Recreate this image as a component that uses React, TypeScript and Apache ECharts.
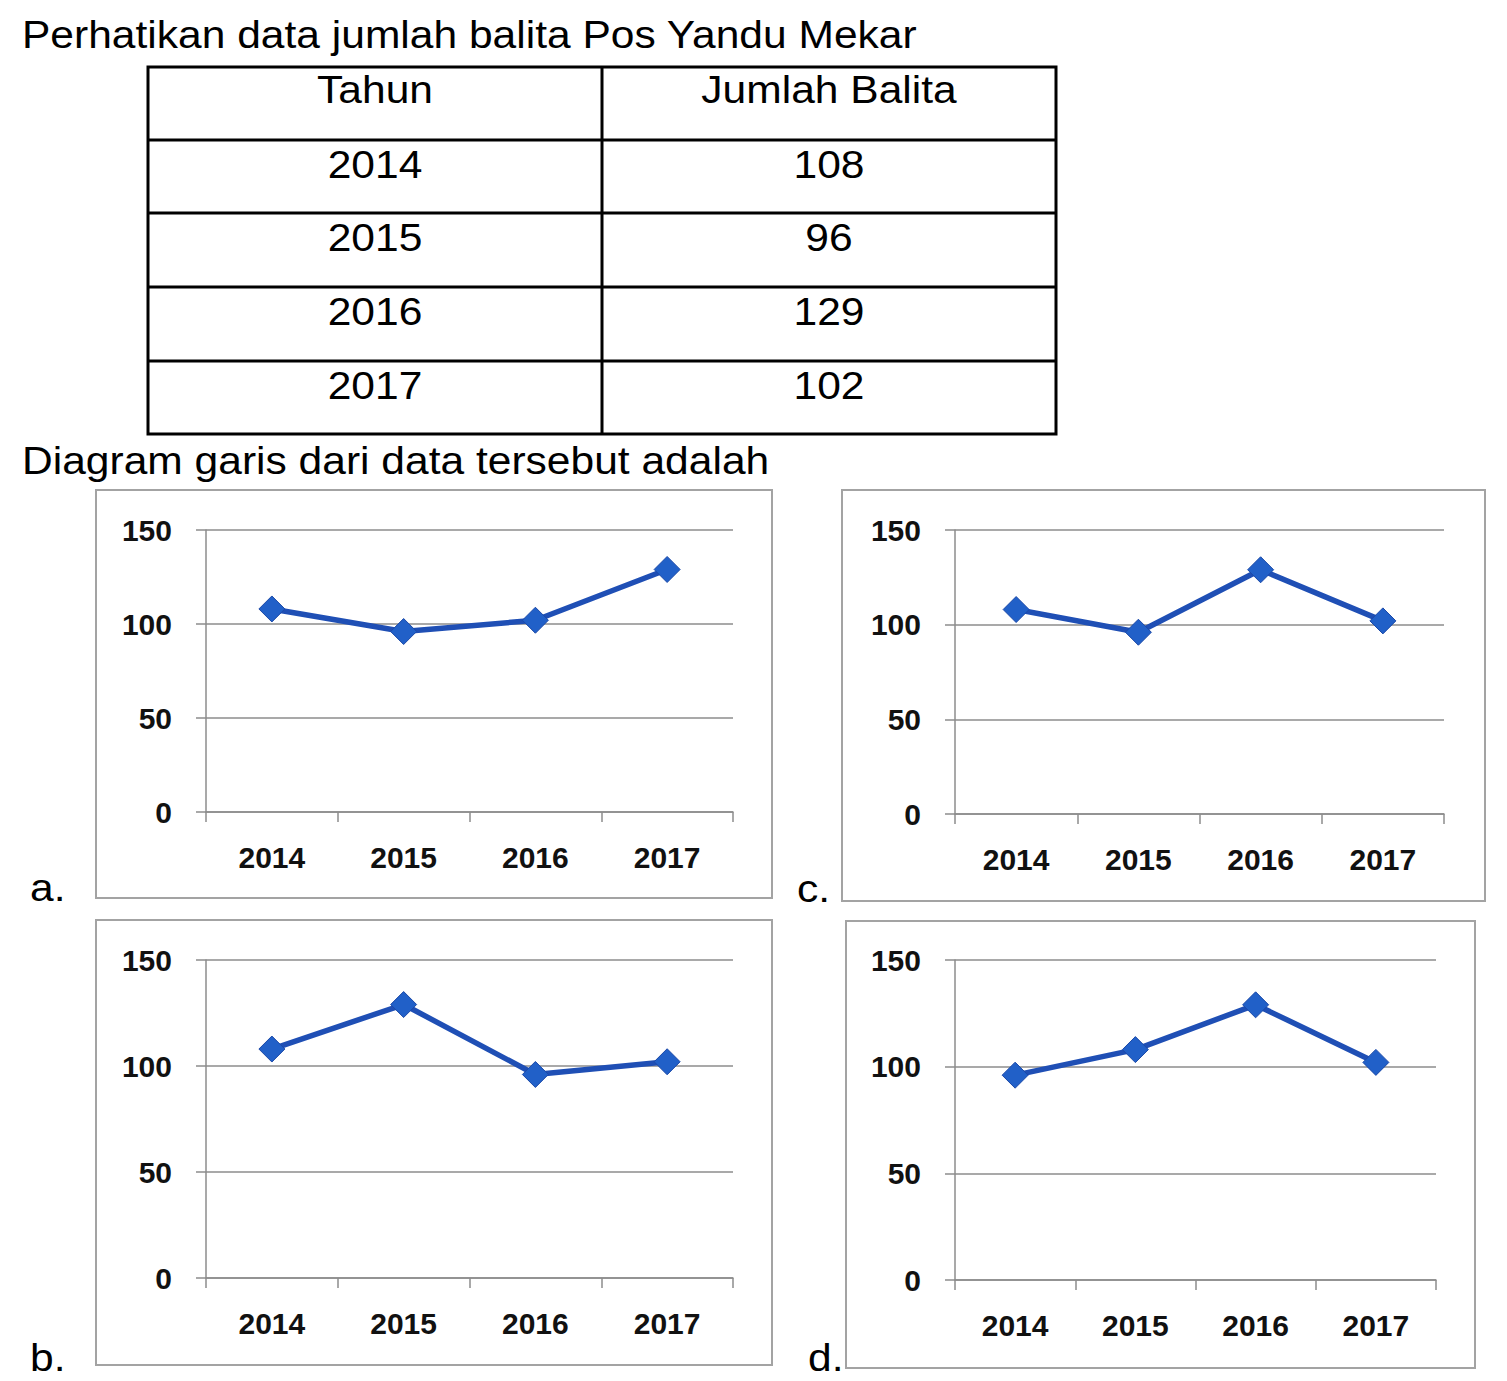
import React, { useEffect, useRef } from 'react';
import * as echarts from 'echarts';

const W = 1507;
const H = 1381;
const FONT = '"Liberation Sans", Arial, sans-serif';

// ---- texts ----
const TITLE = 'Perhatikan data jumlah balita Pos Yandu Mekar';
const SUBTITLE = 'Diagram garis dari data tersebut adalah';
const TABLE_HEADERS = ['Tahun', 'Jumlah Balita'];
const TABLE_YEARS = ['2014', '2015', '2016', '2017'];
const TABLE_COUNTS = [108, 96, 129, 102];

// ---- chart data ----
const CATEGORIES = ['2014', '2015', '2016', '2017'];
const SERIES_A = [108, 96, 102, 129];
const SERIES_B = [108, 129, 96, 102];
const SERIES_C = [108, 96, 129, 102];
const SERIES_D = [96, 108, 129, 102];
const Y_MIN = 0;
const Y_MAX = 150;
const Y_STEP = 50;

// ---- layout ----
const PANELS = [
  { letter: 'a.', data: SERIES_A, grid: { left: 206, top: 530, width: 527, height: 282 }, frame: [96, 490, 676, 408], letterPos: [30, 888] },
  { letter: 'c.', data: SERIES_C, grid: { left: 955, top: 530, width: 489, height: 284 }, frame: [842, 490, 643, 411], letterPos: [797, 889] },
  { letter: 'b.', data: SERIES_B, grid: { left: 206, top: 960, width: 527, height: 318 }, frame: [96, 920, 676, 445], letterPos: [30, 1358] },
  { letter: 'd.', data: SERIES_D, grid: { left: 955, top: 960, width: 481, height: 320 }, frame: [846, 921, 629, 447], letterPos: [808, 1358] },
];
const TABLE_X = [148, 602, 1056];
const TABLE_Y = [67, 140, 213, 287, 361, 434];
const BIG_FONT = 38;
const STRETCH = 1.12;
const AXIS_COLOR = '#8c8c8c';

function bigText(text: string, x: number, y: number, align: string = 'left') {
  return {
    type: 'text',
    x,
    y,
    scaleX: STRETCH,
    scaleY: 1.04,
    z: 10,
    style: {
      text,
      fontSize: BIG_FONT,
      fontFamily: FONT,
      fill: '#000',
      align,
      textAlign: align,
      verticalAlign: 'middle',
      textVerticalAlign: 'middle',
    },
  };
}

export default function App() {
  const ref = useRef<HTMLDivElement>(null);

  useEffect(() => {
    if (!ref.current) return;
    const chart = echarts.init(ref.current, null, { renderer: 'svg', width: W, height: H });

    const graphics: any[] = [];
    graphics.push(bigText(TITLE, 22, 35));
    graphics.push(bigText(SUBTITLE, 22, 461));

    // table
    const tx0 = TABLE_X[0];
    const tx2 = TABLE_X[TABLE_X.length - 1];
    const ty0 = TABLE_Y[0];
    const tyN = TABLE_Y[TABLE_Y.length - 1];
    graphics.push({
      type: 'rect',
      shape: { x: tx0, y: ty0, width: tx2 - tx0, height: tyN - ty0 },
      style: { fill: 'none', stroke: '#000', lineWidth: 3 },
      z: 5,
    });
    graphics.push({
      type: 'line',
      shape: { x1: TABLE_X[1], y1: ty0, x2: TABLE_X[1], y2: tyN },
      style: { stroke: '#000', lineWidth: 3 },
      z: 5,
    });
    for (let i = 1; i < TABLE_Y.length - 1; i++) {
      graphics.push({
        type: 'line',
        shape: { x1: tx0, y1: TABLE_Y[i], x2: tx2, y2: TABLE_Y[i] },
        style: { stroke: '#000', lineWidth: 3 },
        z: 5,
      });
    }
    const c1 = (TABLE_X[0] + TABLE_X[1]) / 2;
    const c2 = (TABLE_X[1] + TABLE_X[2]) / 2;
    graphics.push(bigText(TABLE_HEADERS[0], c1, TABLE_Y[0] + 23, 'center'));
    graphics.push(bigText(TABLE_HEADERS[1], c2, TABLE_Y[0] + 23, 'center'));
    TABLE_YEARS.forEach((yr, i) => {
      graphics.push(bigText(yr, c1, TABLE_Y[i + 1] + 25, 'center'));
      graphics.push(bigText(String(TABLE_COUNTS[i]), c2, TABLE_Y[i + 1] + 25, 'center'));
    });

    // panel frames and letters
    PANELS.forEach((p) => {
      graphics.push({
        type: 'rect',
        shape: { x: p.frame[0], y: p.frame[1], width: p.frame[2], height: p.frame[3] },
        style: { fill: 'none', stroke: '#a3a3a3', lineWidth: 2 },
        z: 1,
      });
      graphics.push(bigText(p.letter, p.letterPos[0], p.letterPos[1]));
    });

    const option: any = {
      animation: false,
      backgroundColor: '#fff',
      grid: PANELS.map((p) => ({ ...p.grid, containLabel: false })),
      xAxis: PANELS.map((p, i) => ({
        type: 'category',
        gridIndex: i,
        data: CATEGORIES,
        boundaryGap: true,
        axisLine: { show: true, lineStyle: { color: AXIS_COLOR, width: 1.5 } },
        axisTick: { show: true, length: 10, lineStyle: { color: AXIS_COLOR, width: 1.5 } },
        axisLabel: { fontSize: 30, fontWeight: 'bold', color: '#111', margin: 30, fontFamily: FONT },
        splitLine: { show: false },
      })),
      yAxis: PANELS.map((p, i) => ({
        type: 'value',
        gridIndex: i,
        min: Y_MIN,
        max: Y_MAX,
        interval: Y_STEP,
        axisLine: { show: true, lineStyle: { color: AXIS_COLOR, width: 1.5 } },
        axisTick: { show: true, length: 10, lineStyle: { color: AXIS_COLOR, width: 1.5 } },
        axisLabel: { fontSize: 30, fontWeight: 'bold', color: '#111', margin: 34, fontFamily: FONT },
        splitLine: { show: true, lineStyle: { color: AXIS_COLOR, width: 1.5 } },
      })),
      series: PANELS.map((p, i) => ({
        type: 'line',
        xAxisIndex: i,
        yAxisIndex: i,
        data: p.data,
        symbol: 'diamond',
        symbolSize: 26,
        lineStyle: { color: '#1f4fb5', width: 5.5 },
        itemStyle: { color: '#2160c8', borderColor: '#1b49a8', borderWidth: 1 },
        z: 3,
      })),
      graphic: graphics,
    };

    chart.setOption(option);
    return () => {
      chart.dispose();
    };
  }, []);

  return (
    <div
      ref={ref}
      style={{ position: 'absolute', left: 0, top: 0, width: W, height: H, background: '#fff' }}
    />
  );
}
